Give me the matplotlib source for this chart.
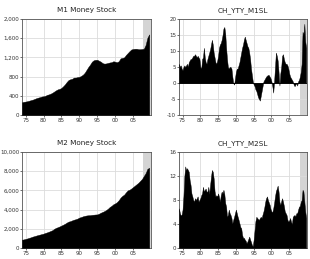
import matplotlib
matplotlib.use("Agg")
import matplotlib.pyplot as plt
import numpy as np
from matplotlib.ticker import FuncFormatter


# semi-annual levels, 1974.0 .. 2009.5
m1_level = [
    265, 275, 280, 288, 298, 310, 320, 335, 350, 362, 372, 385,
    390, 400, 420, 430, 445, 465, 490, 515, 535, 545, 565, 600,
    640, 690, 730, 745, 755, 780, 780, 790, 795, 815, 840, 880,
    940, 1000, 1050, 1110, 1140, 1150, 1150, 1130, 1110, 1080, 1070, 1075,
    1085, 1095, 1100, 1120, 1110, 1100, 1120, 1180, 1190, 1200, 1250, 1290,
    1330, 1365, 1375, 1380, 1380, 1370, 1370, 1375, 1380, 1460, 1610, 1680,
]
m2_level = [
    860, 900, 950, 1000, 1060, 1120, 1190, 1240, 1300, 1350, 1400, 1450,
    1500, 1570, 1630, 1700, 1780, 1860, 2000, 2100, 2170, 2250, 2340, 2430,
    2530, 2650, 2750, 2800, 2880, 2950, 3000, 3070, 3170, 3230, 3300, 3350,
    3390, 3410, 3420, 3450, 3470, 3490, 3500, 3580, 3680, 3760, 3850, 3960,
    4100, 4280, 4400, 4560, 4650, 4780, 4980, 5250, 5430, 5560, 5800, 6000,
    6070, 6200, 6350, 6500, 6650, 6800, 7000, 7200, 7500, 7800, 8250, 8350,
]

# quarterly year-on-year growth, 1974Q1 .. 2009Q4
m1_yty = [
    6.0, 5.0, 5.5, 4.5, 4.0, 5.0, 5.5, 5.0, 5.5, 6.0, 5.0, 6.5,
    7.0, 7.5, 7.5, 8.0, 8.5, 8.5, 9.0, 8.5, 8.0, 8.5, 8.0, 7.5,
    5.0, 4.5, 7.5, 8.0, 11.0, 8.0, 6.5, 6.0, 7.5, 8.5, 9.5, 10.5,
    12.0, 13.5, 12.0, 9.5, 8.0, 6.5, 6.0, 7.0, 8.5, 11.0, 12.0, 12.5,
    13.5, 15.0, 17.0, 17.5, 15.5, 11.0, 7.5, 5.0, 4.5, 5.0, 5.0, 4.5,
    2.0, 0.0, -0.5, 1.5, 3.5, 4.5, 4.5, 5.5, 6.5, 8.0, 9.5, 11.0,
    12.0, 13.5, 14.5, 13.5, 12.5, 11.5, 11.0, 9.5, 7.5, 4.5, 2.5, 0.5,
    -0.5, -1.0, -2.0, -2.5, -3.5, -4.5, -5.0, -5.5, -4.0, -2.5, -1.0, 0.5,
    1.0, 1.5, 2.0, 2.3, 2.5, 2.5, 2.0, 1.5, 0.5, -1.0, -3.0, 0.5,
    5.0, 9.5, 8.5, 7.0, 3.5, -0.8, 3.0, 5.0, 8.5, 9.0, 7.5, 6.5,
    6.0, 6.0, 5.5, 4.5, 3.0, 2.0, 1.5, 1.0, 0.5, -0.5, -1.0, -0.5,
    0.0, -0.8, 0.5, 1.0, 2.0, 3.5, 6.0, 16.0, 15.0, 18.5, 13.0, 11.0,
]
m2_yty = [
    6.6, 5.8, 5.4, 5.6, 6.4, 8.6, 11.9, 13.6, 13.0, 13.3, 13.0, 12.7,
    11.3, 10.5, 9.1, 8.6, 8.0, 7.7, 8.3, 8.0, 8.3, 8.6, 7.7, 8.0,
    8.3, 8.8, 9.1, 10.2, 9.4, 9.7, 9.9, 9.4, 9.4, 10.2, 9.0, 10.5,
    11.9, 13.0, 12.7, 11.6, 9.5, 8.6, 8.8, 8.6, 9.1, 8.5, 7.7, 8.8,
    9.4, 9.1, 9.7, 9.0, 7.5, 6.9, 5.2, 5.5, 6.4, 5.8, 5.5, 5.0,
    4.1, 4.7, 5.2, 5.8, 6.4, 5.8, 5.2, 4.7, 4.1, 3.5, 3.3, 2.2,
    1.7, 1.7, 1.4, 1.2, 0.8, 1.1, 1.5, 1.9, 1.4, 1.0, 0.5, 0.3,
    1.4, 3.0, 4.5, 5.2, 5.0, 4.8, 4.7, 5.0, 5.2, 5.0, 5.6, 6.1,
    6.8, 7.7, 8.3, 8.6, 8.0, 7.6, 7.2, 6.5, 6.1, 6.0, 6.6, 7.5,
    8.6, 9.5, 9.9, 10.4, 9.4, 7.7, 7.2, 7.8, 8.3, 7.7, 7.0, 6.1,
    5.8, 5.5, 4.7, 4.4, 4.6, 5.0, 4.4, 4.0, 5.2, 5.4, 5.5, 5.3,
    5.8, 5.8, 6.4, 6.9, 7.0, 7.7, 8.0, 9.7, 9.4, 7.7, 6.1, 5.0,
]

years_half = 1974 + 0.5 * np.arange(len(m1_level))
years_q = 1974 + 0.25 * np.arange(len(m1_yty))

xticks = [1975, 1980, 1985, 1990, 1995, 2000, 2005]
xticklabels = ["75", "80", "85", "90", "95", "00", "05"]
recession = (2007.9, 2010.0)

fig = plt.figure(figsize=(3.10, 2.59), dpi=100)
fig.patch.set_facecolor("white")

panels = [
    ("M1 Money Stock", years_half, m1_level, (0, 2000), np.arange(0, 2001, 400),
     [22, 19, 151, 115]),
    ("CH_YTY_M1SL", years_q, m1_yty, (-10, 20), np.arange(-10, 21, 5),
     [179, 19, 307, 115]),
    ("M2 Money Stock", years_half, m2_level, (0, 10000), np.arange(0, 10001, 2000),
     [22, 152, 151, 248]),
    ("CH_YTY_M2SL", years_q, m2_yty, (0, 16), np.arange(0, 17, 4),
     [179, 152, 307, 248]),
]

W, H = 310, 259
for title, x, y, ylim, yticks, box in panels:
    l, t, r, b = box
    ax = fig.add_axes([l / W, 1 - b / H, (r - l) / W, (b - t) / H])
    ax.axvspan(*recession, color="#d4d4d4", lw=0, zorder=0)
    ax.fill_between(x, 0, y, color="black", lw=0.3, edgecolor="black", zorder=3)
    if ylim[0] < 0:
        ax.axhline(0, color="black", lw=0.6, zorder=4)
    ax.set_xlim(1974, 2010)
    ax.set_ylim(*ylim)
    ax.set_yticks(yticks)
    ax.set_xticks(xticks)
    ax.set_xticklabels(xticklabels)
    ax.yaxis.set_major_formatter(FuncFormatter(lambda v, p: f"{v:,.0f}"))
    ax.grid(True, color="#dcdcdc", lw=0.6, zorder=1)
    ax.set_axisbelow(True)
    ax.tick_params(labelsize=4.0, length=1.5, width=0.5, pad=0.5, colors="#333333")
    for s in ax.spines.values():
        s.set_linewidth(0.6)
        s.set_color("#555555")
    ax.set_title(title, fontsize=5.2, pad=5, color="#222222")

fig.savefig("out.png", dpi=100)
